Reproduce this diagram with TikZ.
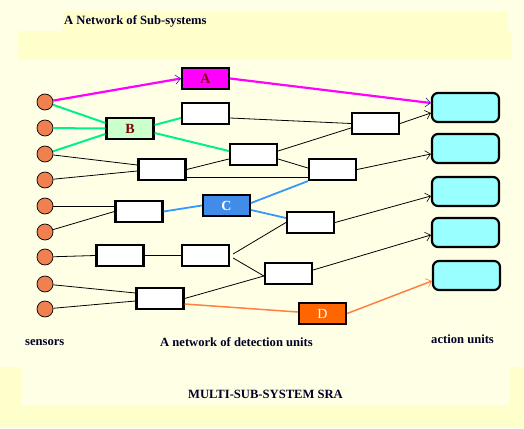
\documentclass[tikz,border=0pt]{standalone}
\usepackage{fontspec}
\setmainfont{Liberation Serif}
\usetikzlibrary{arrows.meta}
\definecolor{bgsolid}{RGB}{255,255,204}
\definecolor{bglight}{RGB}{255,255,230}
\definecolor{sensorc}{RGB}{240,128,80}
\definecolor{boxA}{RGB}{255,0,255}
\definecolor{boxB}{RGB}{204,255,204}
\definecolor{boxC}{RGB}{64,140,232}
\definecolor{boxD}{RGB}{255,102,0}
\definecolor{auc}{RGB}{153,255,255}
\definecolor{lnmag}{RGB}{255,0,255}
\definecolor{lngreen}{RGB}{0,240,140}
\definecolor{lnblue}{RGB}{51,153,255}
\definecolor{lnorange}{RGB}{255,128,64}
\definecolor{darkred}{RGB}{128,0,0}
\definecolor{inkc}{RGB}{0,0,40}
\definecolor{navyhead}{RGB}{30,30,160}
\begin{document}
\begin{tikzpicture}[x=1pt,y=-1pt,
  sensor/.style={circle,draw=black,line width=0.7pt,fill=sensorc,minimum size=16pt,inner sep=0pt},
  unit/.style={rectangle,draw=black,line width=2.2pt,fill=white,minimum width=47pt,minimum height=21pt,inner sep=0pt,
     font=\bfseries\fontsize{14}{14}\selectfont},
  action/.style={rectangle,rounded corners=6pt,draw=black,line width=2.2pt,fill=auc,minimum width=67pt,minimum height=29pt,inner sep=0pt},
  plain/.style={draw=black,line width=0.8pt},
  arr/.style={-{Straight Barb[length=5pt,width=9pt,line width=0.6pt]}},
  magarr/.style={-{Straight Barb[length=5pt,width=9pt,line width=0.6pt,color=navyhead]}},
  mag/.style={draw=lnmag,line width=2.2pt},
  grn/.style={draw=lngreen,line width=2pt},
  blu/.style={draw=lnblue,line width=1.8pt},
  org/.style={draw=lnorange,line width=1.5pt},
  lbl/.style={text=inkc,font=\bfseries\fontsize{12.6}{12.6}\selectfont,inner sep=0pt}
]
\useasboundingbox (0,0) rectangle (524,428);
% background
\fill[bgsolid] (0,0) rectangle (524,428);
\fill[bglight] (0,0) rectangle (524,367);
\fill[bglight] (21,367) rectangle (510,405);
\fill[bgsolid] (63,12) rectangle (508,31);
\fill[bgsolid] (18,31) rectangle (512,60);

% sensors
\node[sensor] (s1) at (45,102) {};
\node[sensor] (s2) at (45,128) {};
\node[sensor] (s3) at (45,154) {};
\node[sensor] (s4) at (45,180) {};
\node[sensor] (s5) at (45,206) {};
\node[sensor] (s6) at (45,232) {};
\node[sensor] (s7) at (45,257) {};
\node[sensor] (s8) at (45,284) {};
\node[sensor] (s9) at (45,309) {};

% detection units
\node[unit,fill=boxA,text=darkred] (A) at (205.5,78.5) {A};
\node[unit,fill=boxB,text=darkred] (B) at (130,128.5) {B};
\node[unit] (b1) at (205.5,113.5) {};
\node[unit] (b2) at (375.5,123.5) {};
\node[unit] (b3) at (253.5,154.5) {};
\node[unit] (b4) at (162,169.5) {};
\node[unit] (b5) at (332.5,169.5) {};
\node[unit,fill=boxC,text=white] (C) at (226.5,205.5) {C};
\node[unit] (b6) at (139,211.5) {};
\node[unit] (b7) at (310.5,222.5) {};
\node[unit] (b8) at (120,255.5) {};
\node[unit] (b9) at (205.5,255.5) {};
\node[unit] (b10) at (288.5,273.5) {};
\node[unit] (b11) at (160,298.5) {};
\node[unit,fill=boxD,text=white,font=\fontsize{14}{14}\selectfont] (D) at (322.5,313.5) {D};

% action units
\node[action] (au1) at (465.5,107.5) {};
\node[action] (au2) at (465.5,148.5) {};
\node[action] (au3) at (465.5,191.5) {};
\node[action] (au4) at (465.5,232.5) {};
\node[action] (au5) at (466.5,275.5) {};

% connectors
\draw[mag,magarr] (s1) -- (A.west);
\draw[mag,magarr] (A.east) -- ([yshift=4.5pt]au1.west);
\draw[grn] (s1) -- ([yshift=5.5pt]B.west);
\draw[grn] (s2) -- (B.west);
\draw[grn] (s3) -- ([yshift=-5.5pt]B.west);
\draw[grn] ([yshift=3.5pt]B.east) -- ([yshift=-4.5pt]b1.west);
\draw[grn] ([yshift=-4.5pt]B.east) -- ([yshift=3.5pt]b3.west);
\draw[plain] ([yshift=-4.5pt]b1.east) -- (b2.west);
\draw[plain,arr] (b2.east) -- ([yshift=-5.5pt]au1.west);
\draw[plain] (s3) -- ([yshift=4.5pt]b4.west);
\draw[plain] (s4) -- ([yshift=-1.5pt]b4.west);
\draw[plain] (b4.east) -- ([yshift=-4.5pt]b3.west);
\draw[plain] ([yshift=-7.5pt]b4.east) -- ([yshift=-7.5pt]b5.west);
\draw[plain] ([yshift=3.5pt]b3.east) -- ([yshift=-4.5pt]b2.west);
\draw[plain] ([yshift=-4.5pt]b3.east) -- ([yshift=1.5pt]b5.west);
\draw[plain,arr] (b5.east) -- ([yshift=-5.5pt]au2.west);
\draw[blu] ([yshift=2.5pt]C.east) -- (b5.south west);
\draw[plain] (s5) -- ([yshift=5.5pt]b6.west);
\draw[plain] (s6) -- (b6.west);
\draw[blu] (b6.east) -- (C.west);
\draw[blu] ([yshift=-4.5pt]C.east) -- ([yshift=4.5pt]b7.west);
\draw[plain,arr] (b7.east) -- ([yshift=-4.5pt]au3.west);
\draw[plain] (s7) -- (b8.west);
\draw[plain] (b8.east) -- (b9.west);
\draw[plain] ([xshift=3pt,yshift=1.5pt]b9.east) -- (b7.west);
\draw[plain] ([xshift=3pt,yshift=-2.5pt]b9.east) -- ([yshift=-2.5pt]b10.west);
\draw[plain,arr] ([yshift=3.5pt]b10.east) -- ([yshift=-2.5pt]au4.west);
\draw[plain] (s8) -- ([yshift=5.5pt]b11.west);
\draw[plain] (s9) -- ([yshift=-2.5pt]b11.west);
\draw[plain] (b11.east) -- ([yshift=-2.5pt]b10.west);
\draw[org] ([yshift=-5.5pt]b11.east) -- ([yshift=1.5pt]D.west);
\draw[org,arr] (D.east) -- ([yshift=-5.5pt]au5.west);

% texts
\node[lbl,anchor=west] (title) at (64,21.5) {A Network of Sub-systems};
\node[lbl,anchor=west] (tsens) at (25,343) {sensors};
\node[lbl,anchor=west] (tdet) at (160,342) {A network of detection units};
\node[lbl,anchor=west] (tact) at (431,339) {action units};
\node[lbl,anchor=west] (tsra) at (188,394) {MULTI-SUB-SYSTEM SRA};
\end{tikzpicture}
\end{document}
